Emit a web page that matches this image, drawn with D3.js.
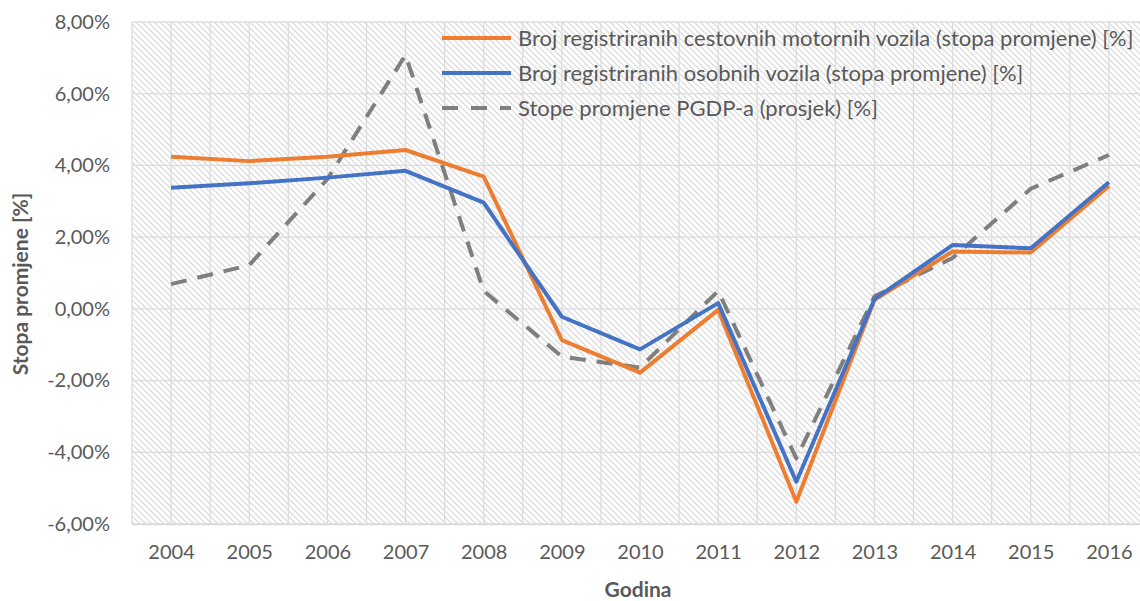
<!DOCTYPE html>
<html><head><meta charset="utf-8">
<script src="https://cdn.jsdelivr.net/npm/d3@7"></script>
<style>
html,body{margin:0;padding:0;background:#fff;}
svg{display:block;}
</style></head>
<body>
<svg id="chart" width="1140" height="601"></svg>
<script>
const years = ["2004","2005","2006","2007","2008","2009","2010","2011","2012","2013","2014","2015","2016"];
const motorVehicles = [4.24, 4.12, 4.24, 4.43, 3.69, -0.87, -1.78, -0.03, -5.38, 0.25, 1.60, 1.57, 3.43];
const passengerCars = [3.38, 3.50, 3.66, 3.85, 2.96, -0.22, -1.13, 0.16, -4.82, 0.27, 1.78, 1.69, 3.53];
const gdpGrowth = [0.69, 1.22, 3.62, 7.08, 0.50, -1.33, -1.64, 0.50, -4.17, 0.35, 1.42, 3.35, 4.29];
const yTicks = [-6, -4, -2, 0, 2, 4, 6, 8];
const seriesNames = [
  "Broj registriranih cestovnih motornih vozila (stopa promjene) [%]",
  "Broj registriranih osobnih vozila (stopa promjene) [%]",
  "Stope promjene PGDP-a (prosjek) [%]"
];
const xTitle = "Godina";
const yTitle = "Stopa promjene [%]";

const svg = d3.select("#chart");
const L = 132, R = 1148, T = 22, B = 524;
const FONT = "Lato, 'Open Sans', sans-serif";

const x = d3.scalePoint().domain(years).range([L, R]).padding(0.5);
const y = d3.scaleLinear().domain([-6, 8]).range([B, T]);

// hatch pattern
const defs = svg.append("defs");
const pat = defs.append("pattern").attr("id","hatch").attr("patternUnits","userSpaceOnUse")
  .attr("width",6).attr("height",6);
pat.append("rect").attr("width",6).attr("height",6).attr("fill","#fff");
pat.append("path").attr("d","M0,0 L6,6 M-1,5 L1,7 M5,-1 L7,1")
  .attr("stroke","#d8d8d8").attr("stroke-width",1.2);

svg.append("rect").attr("x",L).attr("y",T).attr("width",R-L).attr("height",B-T).attr("fill","url(#hatch)");

// gridlines
const step = x.step();
const vLines = d3.range(0, years.length*2+1).map(i => L + i*step/2);
svg.append("g").selectAll("line").data(vLines).join("line")
  .attr("x1",d=>d).attr("x2",d=>d).attr("y1",T).attr("y2",B)
  .attr("stroke","#dcdcdc").attr("stroke-width",1.3);
svg.append("g").selectAll("line").data(yTicks).join("line")
  .attr("x1",L).attr("x2",R).attr("y1",d=>y(d)).attr("y2",d=>y(d))
  .attr("stroke","#dcdcdc").attr("stroke-width",1.3);

// axes
const fmt = d => d.toFixed(2).replace(".", ",") + "%";
const yAxis = svg.append("g").attr("transform",`translate(${L},0)`)
  .call(d3.axisLeft(y).tickValues(yTicks).tickFormat(fmt).tickSize(0).tickPadding(22));
yAxis.select(".domain").remove();
yAxis.selectAll("text").attr("fill","#595959").style("font-family",FONT).style("font-size","20px");

const xAxis = svg.append("g").attr("transform",`translate(0,${B})`)
  .call(d3.axisBottom(x).tickSize(0).tickPadding(21));
xAxis.select(".domain").attr("stroke","#d9d9d9").attr("stroke-width",1.5);
xAxis.selectAll("text").attr("fill","#595959").style("font-family",FONT).style("font-size","20px");

svg.append("text").attr("x",638).attr("y",597).attr("text-anchor","middle")
  .attr("fill","#595959").style("font-family",FONT).style("font-size","21px").style("font-weight","bold")
  .text(xTitle);
svg.append("text").attr("transform",`translate(28,284) rotate(-90)`).attr("text-anchor","middle")
  .attr("fill","#595959").style("font-family",FONT).style("font-size","21px").style("font-weight","bold")
  .text(yTitle);

// lines
const line = d3.line().x((d,i)=>x(years[i])).y(d=>y(d));
const series = [
  {vals: gdpGrowth, color:"#7f7f7f", dash:"16,11"},
  {vals: motorVehicles, color:"#ed7d31", dash:null},
  {vals: passengerCars, color:"#4472c4", dash:null}
];
series.forEach(s => {
  svg.append("path").attr("d", line(s.vals)).attr("fill","none")
    .attr("stroke", s.color).attr("stroke-width",4).attr("stroke-linejoin","round")
    .attr("stroke-dasharray", s.dash);
});

// legend
const legend = [
  {name: seriesNames[0], color:"#ed7d31", dash:null},
  {name: seriesNames[1], color:"#4472c4", dash:null},
  {name: seriesNames[2], color:"#7f7f7f", dash:"16,13"}
];
legend.forEach((d,i) => {
  const ly = 38 + i*35;
  svg.append("line").attr("x1",442).attr("x2",511).attr("y1",ly).attr("y2",ly)
    .attr("stroke",d.color).attr("stroke-width",4).attr("stroke-dasharray",d.dash);
  svg.append("text").attr("x",518).attr("y",ly+8).attr("fill","#595959")
    .style("font-family",FONT).style("font-size","22px").text(d.name);
});
</script>
</body></html>
